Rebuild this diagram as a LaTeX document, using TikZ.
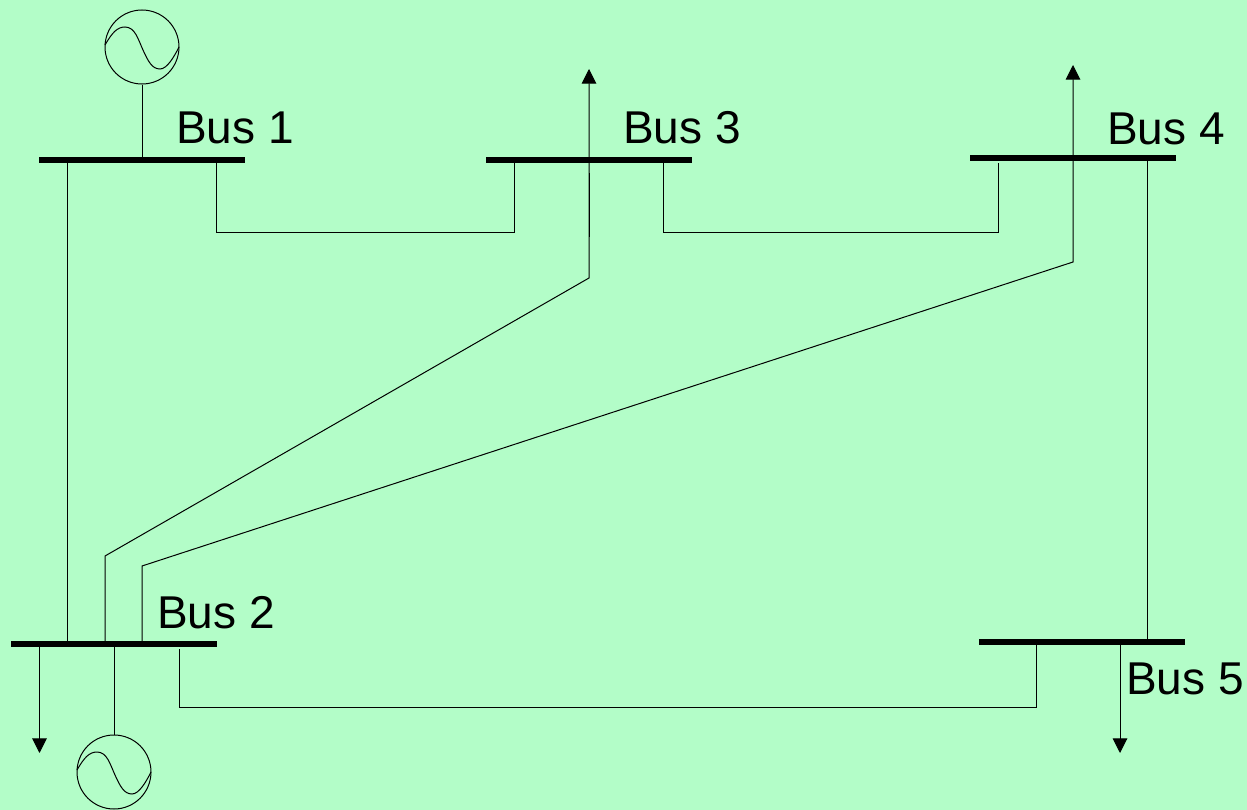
\documentclass[tikz,border=0pt]{standalone}
\usepackage{fontspec}
\setmainfont{Liberation Sans}
\usetikzlibrary{arrows.meta}
\definecolor{bgc}{HTML}{B3FDC8}
\tikzset{
  wire/.style={draw=black,line width=0.75pt},
  load/.style={wire,-{Triangle[length=11pt,width=11pt]}},
  busbar/.style={rectangle,fill=black,inner sep=0pt,minimum width=154.5pt,minimum height=3.9pt},
  gen/.style={circle,draw=black,line width=0.75pt,inner sep=0pt,minimum size=55.5pt},
  buslabel/.style={anchor=base west,inner sep=0pt,font=\fontsize{34.5}{34.5}\selectfont},
  gensine/.pic={\draw[line width=0.75pt] (-37,-2) .. controls (-30,-14) and (-25,-20) .. (-17,-20)
     .. controls (-7,-20) and (-4,-8) .. (1,3)
     .. controls (6,14) and (10,22) .. (18,22)
     .. controls (25,22) and (32,10) .. (37,0);}
}
\begin{document}
\begin{tikzpicture}[x=0.75pt,y=-0.75pt]
\fill[bgc] (0,0) rectangle (1247,810);
\useasboundingbox (0,0) rectangle (1247,810);
% buses
\node[busbar] (b1) at (142,160) {};
\node[busbar] (b3) at (589,160) {};
\node[busbar] (b4) at (1073,158) {};
\node[busbar] (b2) at (114,644) {};
\node[busbar] (b5) at (1082,642) {};
% generators
\node[gen] (g1) at (142,47) {};
\node[gen] (g2) at (114,772) {};
\pic at (g1) {gensine};
\pic at (g2) {gensine};
% labels
\node[buslabel] (l1) at (176,143) {Bus 1};
\node[buslabel] (l3) at (623,143) {Bus 3};
\node[buslabel] (l4) at (1107,144) {Bus 4};
\node[buslabel] (l2) at (157,628) {Bus 2};
\node[buslabel] (l5) at (1126,694) {Bus 5};
% free ends and taps
\coordinate (t1a) at (67,160);
\coordinate (t2a) at (67,644);
\coordinate (t1b) at (216.5,160);
\coordinate (c1) at (216.5,232.7);
\coordinate (c2) at (514.5,232.7);
\coordinate (t3a) at (514.5,160);
\coordinate (t3b) at (663.5,163);
\coordinate (c3) at (663.5,232.7);
\coordinate (c4) at (998.5,232.7);
\coordinate (t4a) at (998.5,163);
\coordinate (t4b) at (1147,158);
\coordinate (t5a) at (1147,642);
\coordinate (t2b) at (179,649);
\coordinate (c5) at (179,707.7);
\coordinate (c6) at (1036,707.7);
\coordinate (t5b) at (1036,642);
\coordinate (t2c) at (105,644);
\coordinate (c7) at (105,556);
\coordinate (c8) at (589,278);
\coordinate (a3) at (589,69);
\coordinate (t2d) at (142,644);
\coordinate (c9) at (142,566);
\coordinate (c10) at (1073,262);
\coordinate (a4) at (1073,65);
\coordinate (t2e) at (39.5,644);
\coordinate (a2) at (39.5,753);
\coordinate (t5c) at (1120,642);
\coordinate (a5) at (1120,753);
\coordinate (o1) at (589,173);
\coordinate (o2) at (589,237);
% connectors
\draw[wire] (g1.south) -- (b1.center);
\draw[wire] (g2.north) -- (b2.center);
\draw[wire] (t1a) -- (t2a);
\draw[wire] (t1b) -- (c1) -- (c2) -- (t3a);
\draw[wire] (t3b) -- (c3) -- (c4) -- (t4a);
\draw[wire] (t4b) -- (t5a);
\draw[wire] (t2b) -- (c5) -- (c6) -- (t5b);
\draw[load] (t2c) -- (c7) -- (c8) -- (a3);
\draw[wire] (o1) -- (o2);
\draw[load] (t2d) -- (c9) -- (c10) -- (a4);
\draw[load] (t2e) -- (a2);
\draw[load] (t5c) -- (a5);
\end{tikzpicture}
\end{document}
